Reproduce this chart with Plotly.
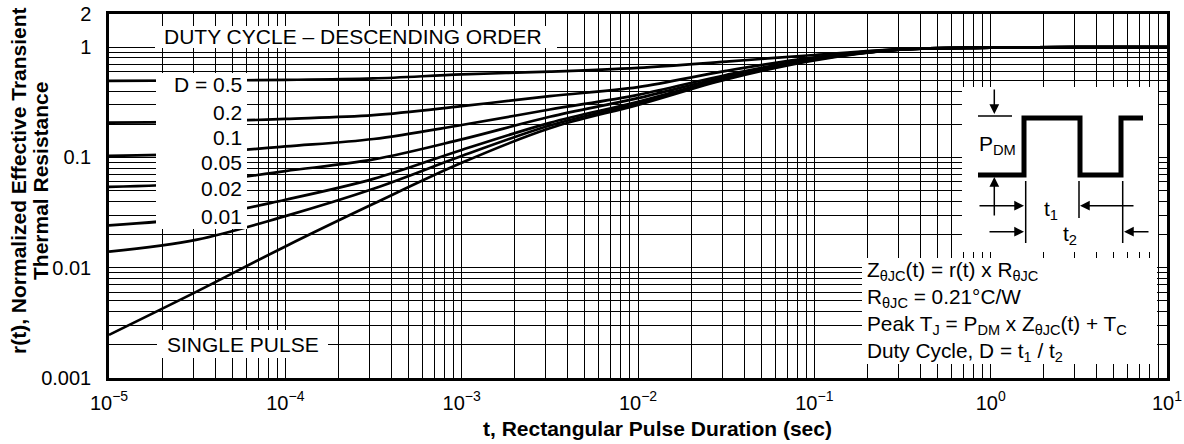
import math
import plotly.graph_objects as go

# ---------------- data ----------------
t = [1e-5, 3.16e-5, 1e-4, 3.16e-4, 1e-3, 3.16e-3, 1e-2, 3.16e-2, 1e-1, 3.16e-1, 1, 3.16, 10]

r_d05 = [0.495, 0.499, 0.505, 0.521, 0.567, 0.600, 0.650, 0.740, 0.850, 0.960, 0.990, 1.0, 1.0]
r_d02 = [0.207, 0.211, 0.224, 0.242, 0.292, 0.360, 0.435, 0.610, 0.810, 0.960, 0.990, 1.0, 1.0]
r_d01 = [0.1035, 0.109, 0.126, 0.147, 0.197, 0.272, 0.370, 0.560, 0.790, 0.955, 0.990, 1.0, 1.0]
r_d005 = [0.054, 0.059, 0.0753, 0.096, 0.146, 0.234, 0.345, 0.540, 0.780, 0.955, 0.990, 1.0, 1.0]
r_d002 = [0.0242, 0.0286, 0.0414, 0.064, 0.117, 0.206, 0.320, 0.525, 0.775, 0.955, 0.990, 1.0, 1.0]
r_d001 = [0.0140, 0.0180, 0.0294, 0.052, 0.103, 0.195, 0.310, 0.520, 0.770, 0.955, 0.990, 1.0, 1.0]
r_single = [0.00246, 0.0061, 0.0156, 0.0380, 0.0895, 0.184, 0.300, 0.510, 0.760, 0.955, 0.990, 1.0, 1.0]

series = [r_d05, r_d02, r_d01, r_d005, r_d002, r_d001, r_single]
duty_labels = ["D = 0.5", "0.2", "0.1", "0.05", "0.02", "0.01"]

x_tickvals = [1e-5, 1e-4, 1e-3, 1e-2, 1e-1, 1, 10]
x_ticktext = ["10<sup>\u22125</sup>", "10<sup>\u22124</sup>", "10<sup>\u22123</sup>",
              "10<sup>\u22122</sup>", "10<sup>\u22121</sup>", "10<sup>0</sup>", "10<sup>1</sup>"]
y_tickvals = [0.001, 0.01, 0.1, 1, 2]
y_ticktext = ["0.001", "0.01", "0.1", "1", "2"]

FONT = "Liberation Sans, Arial, Helvetica, sans-serif"

# ---------------- geometry ----------------
W, H = 1184, 444
L, R, T, B = 109, 1167, 14, 378  # plot area in pixels


def px(x):
    return (x - L) / (R - L)


def py(y):
    return (B - y) / (B - T)


fig = go.Figure()
for r in series:
    fig.add_trace(go.Scatter(x=t, y=r, mode="lines",
                             line=dict(color="black", width=2.7, shape="spline", smoothing=1.0),
                             showlegend=False, hoverinfo="skip"))

minor_x = [m * 10.0 ** e for e in range(-5, 1) for m in range(2, 10)]
minor_y = [m * 10.0 ** e for e in range(-3, 0) for m in range(2, 10)]

axis_common = dict(type="log", showgrid=True, gridcolor="black", gridwidth=1,
                   showline=True, linecolor="black", linewidth=2.5, mirror=True,
                   ticks="", zeroline=False, automargin=False, ticklabeloverflow="allow",
                   tickfont=dict(family=FONT, size=20, color="black"))

fig.update_xaxes(range=[-5, 1], tickmode="array", tickvals=x_tickvals, ticktext=x_ticktext,
                 minor=dict(tickmode="array", tickvals=minor_x, showgrid=True,
                            gridcolor="black", gridwidth=1, ticks=""),
                 ticklabelstandoff=5, **axis_common)
fig.update_yaxes(range=[-3, math.log10(2) + 1e-5], tickmode="array", tickvals=y_tickvals,
                 ticktext=y_ticktext,
                 minor=dict(tickmode="array", tickvals=minor_y, showgrid=True,
                            gridcolor="black", gridwidth=1, ticks=""),
                 ticklabelstandoff=11, **axis_common)

shapes = []


def white_box(x0, y0, x1, y1):
    shapes.append(dict(type="rect", xref="paper", yref="paper",
                       x0=px(x0), x1=px(x1), y0=py(y1), y1=py(y0),
                       fillcolor="white", line=dict(width=0), layer="above"))


white_box(155, 26, 557, 48)     # duty cycle title
white_box(156, 73, 247, 229)    # D labels
white_box(157, 330, 328, 358)   # single pulse
white_box(962, 87, 1158, 252)   # pulse diagram
white_box(862, 258, 1157, 364)  # formula box


def seg(x0, y0, x1, y1, w=1.5):
    shapes.append(dict(type="line", xref="paper", yref="paper",
                       x0=px(x0), y0=py(y0), x1=px(x1), y1=py(y1),
                       line=dict(color="black", width=w), layer="above"))


# pulse waveform
wave = [(978, 175), (1024, 175), (1024, 118), (1080, 118), (1080, 175),
        (1121, 175), (1121, 118), (1143, 118)]
path = "M " + " L ".join(f"{px(a):.5f},{py(b):.5f}" for a, b in wave)
shapes.append(dict(type="path", xref="paper", yref="paper", path=path,
                   line=dict(color="black", width=5), layer="above"))
seg(978, 116, 1012, 116)
seg(1025.7, 181, 1025.7, 243)
seg(1079, 181, 1079, 218)
seg(1122.7, 181, 1122.7, 243)

annotations = []


def arrow(hx, hy, tx, ty):
    annotations.append(dict(xref="paper", yref="paper", x=px(hx), y=py(hy), text="",
                            showarrow=True, ax=tx - hx, ay=ty - hy, axref="pixel", ayref="pixel",
                            arrowhead=2, arrowsize=1.3, arrowwidth=1.5, arrowcolor="black",
                            standoff=0, startstandoff=0))


arrow(994.3, 114, 994.3, 88)
arrow(994.3, 177, 994.3, 217)
arrow(1024, 205.7, 978, 205.7)
arrow(1080, 205.7, 1135, 205.7)
arrow(1024, 231.7, 988, 231.7)
arrow(1124, 231.7, 1150, 231.7)


def text(x, y, s, size=21, xanchor="left", yanchor="middle", angle=0, align="left"):
    annotations.append(dict(xref="paper", yref="paper", x=px(x), y=py(y), text=s,
                            showarrow=False, xanchor=xanchor, yanchor=yanchor,
                            textangle=angle, align=align,
                            font=dict(family=FONT, size=size, color="black")))


text(162, 36, "DUTY CYCLE \u2013 DESCENDING ORDER")
for lab, yc in zip(duty_labels, [84, 112, 137, 162, 189, 216]):
    text(244, yc, lab, xanchor="right")
text(165, 344, "SINGLE PULSE")
text(977, 145, "P<sub>DM</sub>")
text(1051, 210, "t<sub>1</sub>", xanchor="center")
text(1070, 235, "t<sub>2</sub>", xanchor="center")

formula = ("Z<sub>\u03b8JC</sub>(t) = r(t) x R<sub>\u03b8JC</sub><br>"
           "R<sub>\u03b8JC</sub> = 0.21\u00b0C/W<br>"
           "Peak T<sub>J</sub> = P<sub>DM</sub> x Z<sub>\u03b8JC</sub>(t) + T<sub>C</sub><br>"
           "Duty Cycle, D = t<sub>1</sub> / t<sub>2</sub>")
text(865, 311, formula, size=20.8)

# axis titles
text(18, 181, "<b>r(t), Normalized Effective Transient</b>", xanchor="center", angle=-90)
text(40, 181, "<b>Thermal Resistance</b>", xanchor="center", angle=-90)
text(657, 428, "<b>t, Rectangular Pulse Duration (sec)</b>", xanchor="center")

fig.update_layout(width=W, height=H, autosize=False,
                  margin=dict(l=L, r=W - R, t=T, b=H - B, pad=0),
                  paper_bgcolor="white", plot_bgcolor="white",
                  shapes=shapes, annotations=annotations,
                  font=dict(family=FONT, color="black"))

# remove the browser's default 8 px page margin so the figure fills the window
fig.write_html("out.html", config={"displayModeBar": False},
               post_script="document.body.style.margin='0';document.body.style.overflow='hidden';")
